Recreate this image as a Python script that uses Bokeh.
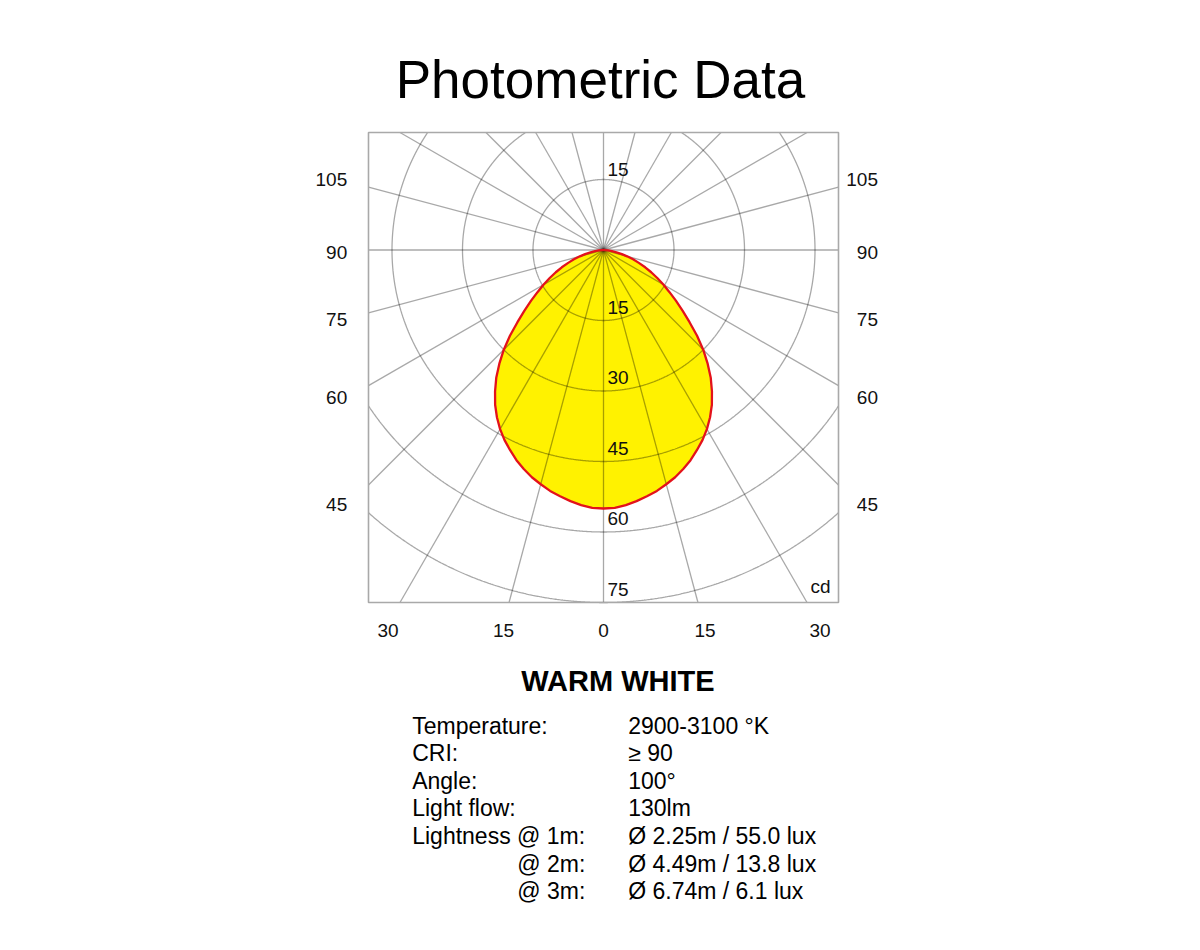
import numpy as np
from bokeh.plotting import figure
from bokeh.models import Label
from bokeh.embed import file_html
from bokeh.resources import INLINE

# ---------------- data ----------------
gamma_deg = [0, 2.5, 5, 7.5, 10, 12.5, 15, 17.5, 20, 22.5, 25, 27.5, 30, 32.5, 35, 37.5,
             40, 42.5, 45, 47.5, 50, 52.5, 55, 57.5, 60, 62.5, 65, 67.5, 70, 72.5, 75,
             77.5, 80, 82.5, 85, 87.5, 90]
intensity_cd = [55.0, 54.9, 54.5, 53.9, 53.2, 52.5, 51.6, 50.7, 49.6, 48.4, 47.0, 45.6,
                44.0, 42.2, 40.2, 37.9, 35.5, 32.8, 30.0, 27.0, 23.9, 21.2, 18.8, 16.6,
                14.7, 12.9, 11.2, 9.6, 8.0, 6.6, 5.2, 4.0, 2.8, 1.8, 1.0, 0.4, 0.0]

circle_cd = [15, 30, 45, 60, 75, 90]
circle_labels = ["15", "30", "45", "60", "75"]
ray_step_deg = 15
box_x = (-50, 50)      # cd
box_y = (-75, 25)      # cd

side_ticks = ["105", "90", "75", "60", "45"]
bottom_ticks = ["30", "15", "0", "15", "30"]

title_text = "Photometric Data"
subtitle_text = "WARM WHITE"
spec_keys = ["Temperature:", "CRI:", "Angle:", "Light flow:", "Lightness @ 1m:", "@ 2m:", "@ 3m:"]
spec_values = ["2900-3100 °K", "≥ 90", "100°", "130lm",
               "Ø 2.25m / 55.0 lux", "Ø 4.49m / 13.8 lux", "Ø 6.74m / 6.1 lux"]

# ---------------- layout ----------------
W, H = 1184, 930
S = 4.7                 # pixels per cd
CX, CY = 603.0, 249.5   # canvas position of the pole
FONT = "Liberation Sans"
GRID = "black"
GRID_ALPHA = 0.34
GRID_W = 1.3
BASE_SHIFT = 0.38       # em, raise text so that the given y is its baseline


def dx(xp):
    return (xp - CX) / S


def dy(yp):
    return (CY - yp) / S


p = figure(width=W, height=H, x_range=(dx(0), dx(W)), y_range=(dy(H), dy(0)),
           min_border=0, x_axis_location=None, y_axis_location=None,
           toolbar_location=None, output_backend="svg",
           background_fill_color="white", border_fill_color="white")
p.grid.visible = False
p.outline_line_color = None

# luminous intensity curve (symmetric), gamma measured from nadir
g = np.radians(np.array(gamma_deg, dtype=float))
I = np.array(intensity_cd, dtype=float)
gam = np.concatenate([-g[::-1], g[1:]])
ii = np.concatenate([I[::-1], I[1:]])
cx = ii * np.sin(gam)
cy = -ii * np.cos(gam)

p.patch(cx, cy, fill_color="#fff200", line_color=None)


def inside(x, y):
    return (x >= box_x[0]) & (x <= box_x[1]) & (y >= box_y[0]) & (y <= box_y[1])


# concentric circles clipped to the box
t = np.radians(np.arange(0, 360.001, 0.2))
for r in circle_cd:
    x = r * np.cos(t)
    y = r * np.sin(t)
    m = inside(x, y)
    x = np.where(m, x, np.nan)
    y = np.where(m, y, np.nan)
    p.line(x, y, line_color=GRID, line_alpha=GRID_ALPHA, line_width=GRID_W)

# radial lines clipped to the box
x1, y1 = [], []
for a in np.radians(np.arange(0, 360, ray_step_deg)):
    c, s = np.cos(a), np.sin(a)
    d = []
    if c > 1e-9:
        d.append(box_x[1] / c)
    if c < -1e-9:
        d.append(box_x[0] / c)
    if s > 1e-9:
        d.append(box_y[1] / s)
    if s < -1e-9:
        d.append(box_y[0] / s)
    L = min(d)
    x1.append(L * c)
    y1.append(L * s)
p.segment(x0=0, y0=0, x1=x1, y1=y1, line_color=GRID, line_alpha=GRID_ALPHA, line_width=GRID_W)

# outer frame
p.quad(left=box_x[0], right=box_x[1], bottom=box_y[0], top=box_y[1],
       fill_color=None, line_color="#a9a9a9", line_width=1.6)

# curve outline
p.line(np.append(cx, cx[0]), np.append(cy, cy[0]), line_color="#e3121b", line_width=2.3)


def lab(x, y, text, size=19, align="left", style="normal", color="#111111"):
    p.add_layout(Label(x=x, y=y + BASE_SHIFT * size / S, text=text, text_font=FONT,
                       text_font_size=f"{size}px", text_align=align,
                       text_baseline="alphabetic", text_font_style=style,
                       text_color=color))


# radius labels (cd)
lab(dx(607), 15.6, "15")
for r, tx in zip(circle_cd, circle_labels):
    lab(dx(607), -r + 1.3, tx)
lab(dx(830), dy(593.5), "cd", align="right")

# side angle labels
side_baselines = [186, 259.3, 326.7, 404.3, 511.7]
for tx, yb in zip(side_ticks, side_baselines):
    lab(dx(346.7), dy(yb), tx, align="right")
    lab(dx(877.5), dy(yb), tx, align="right")

# bottom angle labels
bottom_centers = [387.5, 503, 603, 704.5, 819.6]
for tx, xc in zip(bottom_ticks, bottom_centers):
    lab(dx(xc), dy(637.3), tx, align="center")

# title and specs
lab(dx(600), dy(99.3), title_text, size=53, align="center", color="black")
lab(dx(617.5), dy(691.7), subtitle_text, size=29, align="center", style="bold", color="black")

row_baselines = [734, 761.7, 789.3, 816.7, 844.3, 872, 899.3]
key_x = [411.7, 411.7, 411.7, 411.7, 411.7, 516.7, 516.7]
for k, v, yb, kx in zip(spec_keys, spec_values, row_baselines, key_x):
    lab(dx(kx), dy(yb), k, size=23, color="black")
    lab(dx(627.7), dy(yb), v, size=23, color="black")

open("out.html", "w").write(file_html(p, INLINE))
